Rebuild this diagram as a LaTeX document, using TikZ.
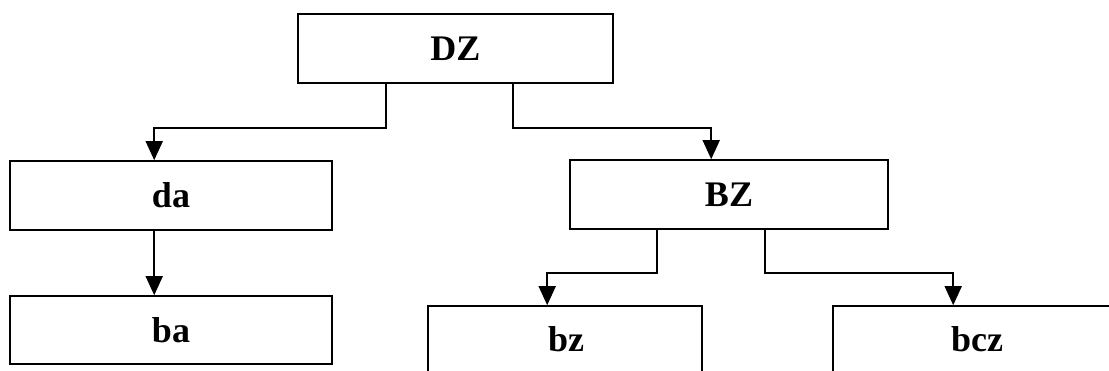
\documentclass[tikz,border=0pt]{standalone}
\usepackage{fontspec}
\setmainfont{Liberation Serif}
\usetikzlibrary{arrows.meta,calc}
\begin{document}
\begin{tikzpicture}[x=1pt,y=-1pt,
  box/.style={draw,line width=1.6pt,inner sep=0pt,font=\fontsize{36}{40}\selectfont\bfseries},
  lbl/.style={inner sep=0pt,font=\fontsize{36}{40}\selectfont\bfseries},
  arr/.style={line width=1.6pt,-{Triangle[width=17pt,length=19pt]}}]
\clip (0,0) rectangle (1109,371);
\fill[white] (0,0) rectangle (1109,371);
\node[box,minimum width=315pt,minimum height=69pt] (DZ) at (455.5,48.5) {DZ};
\node[box,minimum width=322pt,minimum height=69pt] (da) at (171,195.5) {da};
\node[box,minimum width=322pt,minimum height=68pt] (ba) at (171,330) {ba};
\node[box,minimum width=318pt,minimum height=69pt] (BZ) at (729,194.5) {BZ};
\node[box,minimum width=274pt,minimum height=100pt] (bz) at (565,356) {};
\node[box,minimum width=288pt,minimum height=100pt] (bcz) at (977,356) {};
\node[lbl] (bzt) at (566,339) {bz};
\node[lbl] (bczt) at (977,339) {bcz};
\draw[arr] ($(DZ.south west)+(89,0)$) -- ++(0,44) -| ($(da.north west)+(145,0)$);
\draw[arr] ($(DZ.south west)+(216,0)$) -- ++(0,44) -| ($(BZ.north west)+(142,0)$);
\draw[arr] ($(da.south west)+(145,0)$) -- ($(ba.north west)+(145,0)$);
\draw[arr] ($(BZ.south west)+(88,0)$) -- ++(0,43) -| ($(bz.north west)+(120,0)$);
\draw[arr] ($(BZ.south west)+(196,0)$) -- ++(0,43) -| ($(bcz.north west)+(121,0)$);
\end{tikzpicture}
\end{document}
